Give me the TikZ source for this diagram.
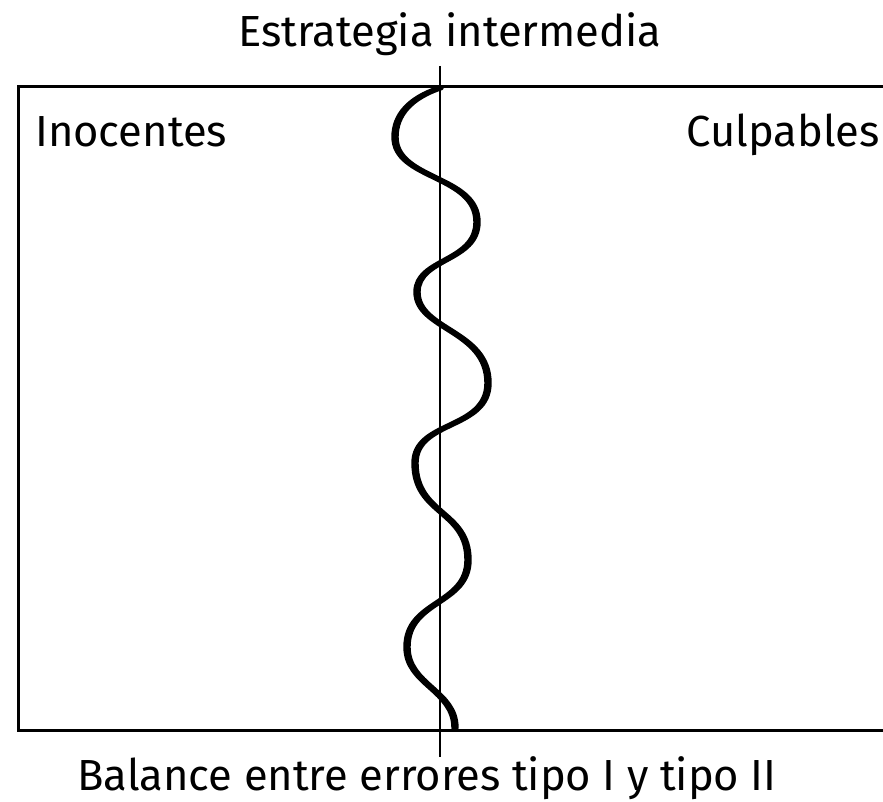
\documentclass[tikz,border=0pt]{standalone}
\usepackage{fontspec}
\setmainfont{Fira Sans}
\newcommand{\grande}{\fontsize{43.5}{50}\selectfont}
% trazo de la onda, de arriba abajo
\newcommand{\trazo}{(440,88) .. controls (410,98) and (395,115) .. (395,137)
    .. controls (395,180) and (477,175) .. (477,222)
    .. controls (477,262) and (417,258) .. (417,292)
    .. controls (417,330) and (488,330) .. (488,383)
    .. controls (488,430) and (415,420) .. (415,463)
    .. controls (415,515) and (468,510) .. (468,560)
    .. controls (468,605) and (407,600) .. (407,647)
    .. controls (407,685) and (455,690) .. (455,728)}
\tikzset{
            etiqueta/.style={inner sep=0pt, font=\grande},
            marco/.style={line width=3pt, line join=miter},
            onda/.style={line width=4.4pt, line cap=round}
        }

\begin{document}
\begin{tikzpicture}[
                    x=1pt, y=-1pt,
                    every node/.style={etiqueta}
                    ]
                \useasboundingbox (0,0) rectangle (883,802);
                \node[anchor=base] (titulo) at (450,47) {Estrategia intermedia};
                \node[anchor=base west] (inocentes) at (35,147) {Inocentes};
                \node[anchor=base east] (culpables) at (880,147) {Culpables};
                \node[anchor=base] (balance) at (427,790) {Balance entre errores tipo I y tipo II};
                \coordinate (arriba) at (440,66);
                \coordinate (abajo) at (440,757);
                % caja abierta por la derecha
                \draw[marco] (890,87) -- (18,87) -- (18,730) -- (890,730);
                \draw[line width=2.8pt] (arriba) -- (abajo);
                % la onda, dos veces para que engorde en los tramos verticales
                \draw[onda, xshift=-1.5pt] \trazo;
                \draw[onda, xshift=1.5pt] \trazo;
            \end{tikzpicture}
\end{document}
